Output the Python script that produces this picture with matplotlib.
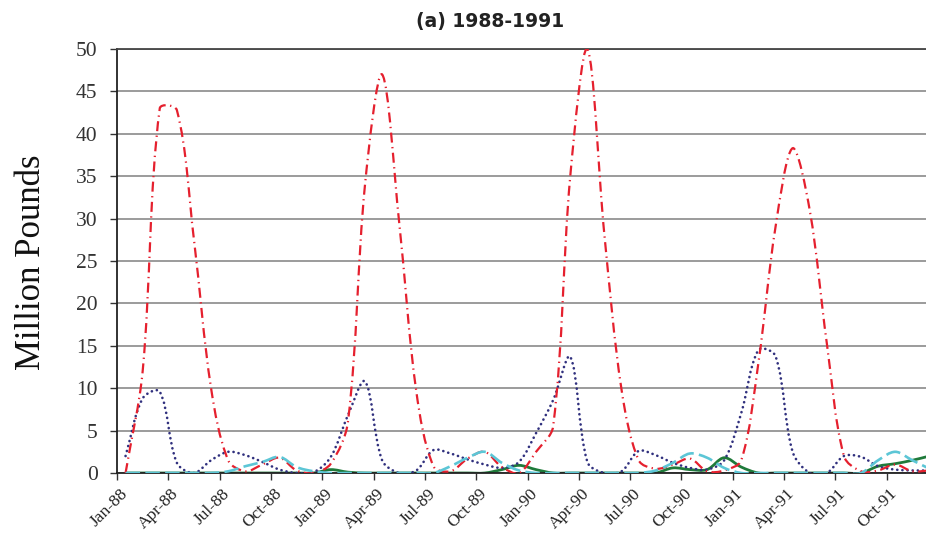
import numpy as np
import matplotlib
matplotlib.use("Agg")
import matplotlib.pyplot as plt
from matplotlib.path import Path
from matplotlib.patches import PathPatch
from matplotlib.transforms import ScaledTranslation

# monthly values, Jan-88 .. Dec-91 (million pounds)
red = [0, 12, 43, 42.8, 27.5, 10, 1.5, 0.2, 1.0, 1.8, 0.3, 0,
       1.1, 6, 34, 47, 29.5, 9.6, 0.8, 0.2, 1.7, 2.5, 0.7, 0,
       2.5, 5.5, 35, 50, 28, 9.8, 1.5, 0.5, 1.0, 1.7, 0.2, 0.3,
       1.5, 13, 29, 38.3, 31, 15.3, 2, 0.2, 0.3, 1.0, 0.2, 0.3]
navy = [2, 8.8, 9.6, 1.2, 0, 1.5, 2.5, 2.1, 1.3, 0.4, 0, 0.1,
        1.9, 6.8, 10.8, 1.5, 0, 0.3, 2.7, 2.3, 1.6, 1.0, 0.6, 1.3,
        4.7, 8.6, 13.7, 1.3, 0, 0.2, 2.6, 2.1, 1.2, 0.6, 0.4, 1.5,
        7.1, 14.5, 13.8, 2.5, 0, 0, 2.0, 1.9, 0.8, 0.4, 0.3, 0.3]
cyan = [0, 0, 0, 0, 0, 0, 0.2, 0.8, 1.3, 1.9, 0.7, 0.2,
        0, 0, 0, 0, 0, 0, 0, 0.8, 1.8, 2.5, 1.2, 0.3,
        0, 0, 0, 0, 0, 0, 0, 0.3, 1.2, 2.3, 1.8, 0.6,
        0, 0, 0, 0, 0, 0, 0, 0, 1.5, 2.5, 1.5, 0.5]
green = [0, 0, 0, 0, 0, 0, 0, 0, 0, 0, 0, 0,
         0.4, 0.1, 0, 0, 0, 0, 0, 0, 0, 0, 0.4, 0.9,
         0.4, 0, 0, 0, 0, 0, 0, 0, 0.6, 0.4, 0.4, 1.8,
         0.7, 0, 0, 0, 0, 0, 0, 0, 0.8, 1.1, 1.5, 2.0]
tick_labels = ["Jan-88", "Apr-88", "Jul-88", "Oct-88",
               "Jan-89", "Apr-89", "Jul-89", "Oct-89",
               "Jan-90", "Apr-90", "Jul-90", "Oct-90",
               "Jan-91", "Apr-91", "Jul-91", "Oct-91"]

# rough pixel size of one x / y unit, used to weight the curve tangents
SX, SY = 17.1, 8.48


def smooth_path(x, y):
    # excel-style smoothed line through the points
    pts = np.column_stack([x, y]).astype(float)
    n = len(pts)

    def dist(a, b):
        return np.hypot((a[0] - b[0]) * SX, (a[1] - b[1]) * SY)

    verts = [pts[0]]
    codes = [Path.MOVETO]
    for i in range(n - 1):
        p0 = pts[max(i - 1, 0)]
        p1 = pts[i]
        p2 = pts[i + 1]
        p3 = pts[min(i + 2, n - 1)]
        d01, d12, d23 = dist(p0, p1), dist(p1, p2), dist(p2, p3)
        f1 = d12 / (d01 + d12) / 3 if d01 + d12 > 0 else 0
        f2 = d12 / (d12 + d23) / 3 if d12 + d23 > 0 else 0
        verts += [p1 + (p2 - p0) * f1, p2 - (p3 - p1) * f2, p2]
        codes += [Path.CURVE4] * 3
    return Path(verts, codes)


fig = plt.figure(figsize=(9.26, 5.39), dpi=100)
ax = fig.add_axes([117 / 926, 66 / 539, 821 / 926, 424 / 539])

x = np.arange(len(red))
series = [
    (green, "#1f7a3a", 2.0, "-", "butt", 2),
    (navy, "#30307e", 1.9, (0, (0.05, 1.9)), "round", 3),
    (red, "#e5202e", 1.6, (0, (4.5, 2, 0.6, 2)), "butt", 3.5),
    (cyan, "#5cc6d6", 1.9, (0, (5.5, 2)), "butt", 4),
]
for vals, col, lw, ls, cap, z in series:
    patch = PathPatch(smooth_path(x, vals), fill=False, edgecolor=col,
                      linewidth=lw, linestyle=ls, capstyle=cap, zorder=z)
    ax.add_patch(patch)

ax.set_xlim(-0.5, 47.5)
ax.set_ylim(0, 50)
ax.set_yticks(np.arange(0, 51, 5))
ax.yaxis.grid(True, color="#8a8a8a", linewidth=1.2)
ax.set_axisbelow(True)

# ticks on category boundaries, labels centred on the categories
ax.set_xticks(np.arange(-0.5, 48, 3))
ax.set_xticklabels([])
ax.set_xticks(np.arange(0, 48, 3), minor=True)
ax.set_xticklabels(tick_labels, minor=True, rotation=45, ha="right",
                   va="top", rotation_mode="anchor",
                   family="Liberation Serif", fontsize=12.5, color="#222222")
ax.tick_params(axis="x", which="minor", length=0, pad=9)
ax.tick_params(axis="x", which="major", length=5, width=1, color="#333333")
ax.tick_params(axis="y", length=5, width=1, color="#333333", pad=9,
               labelsize=15.5, labelcolor="#333333")
for lab in ax.get_yticklabels():
    lab.set_family("Liberation Serif")
shift = ScaledTranslation(-6 / 100, 0, fig.dpi_scale_trans)
for lab in ax.get_xticklabels(minor=True):
    lab.set_transform(lab.get_transform() + shift)

ax.spines["right"].set_visible(False)
ax.spines["top"].set_color("#444444")
ax.spines["top"].set_linewidth(1.3)
ax.spines["left"].set_color("#222222")
ax.spines["left"].set_linewidth(1.3)
ax.spines["bottom"].set_color("#222222")
ax.spines["bottom"].set_linewidth(1.3)

fig.text(490 / 926, 1 - 22 / 539, "(a) 1988-1991", ha="center", va="center",
         fontsize=13.5, fontweight="bold", family="DejaVu Sans", color="#222222")
fig.text(31 / 926, 1 - 262 / 539, "Million Pounds", rotation=90, ha="center",
         va="center", fontsize=25, family="Liberation Serif", color="#111111")

fig.savefig("out.png", dpi=100)
